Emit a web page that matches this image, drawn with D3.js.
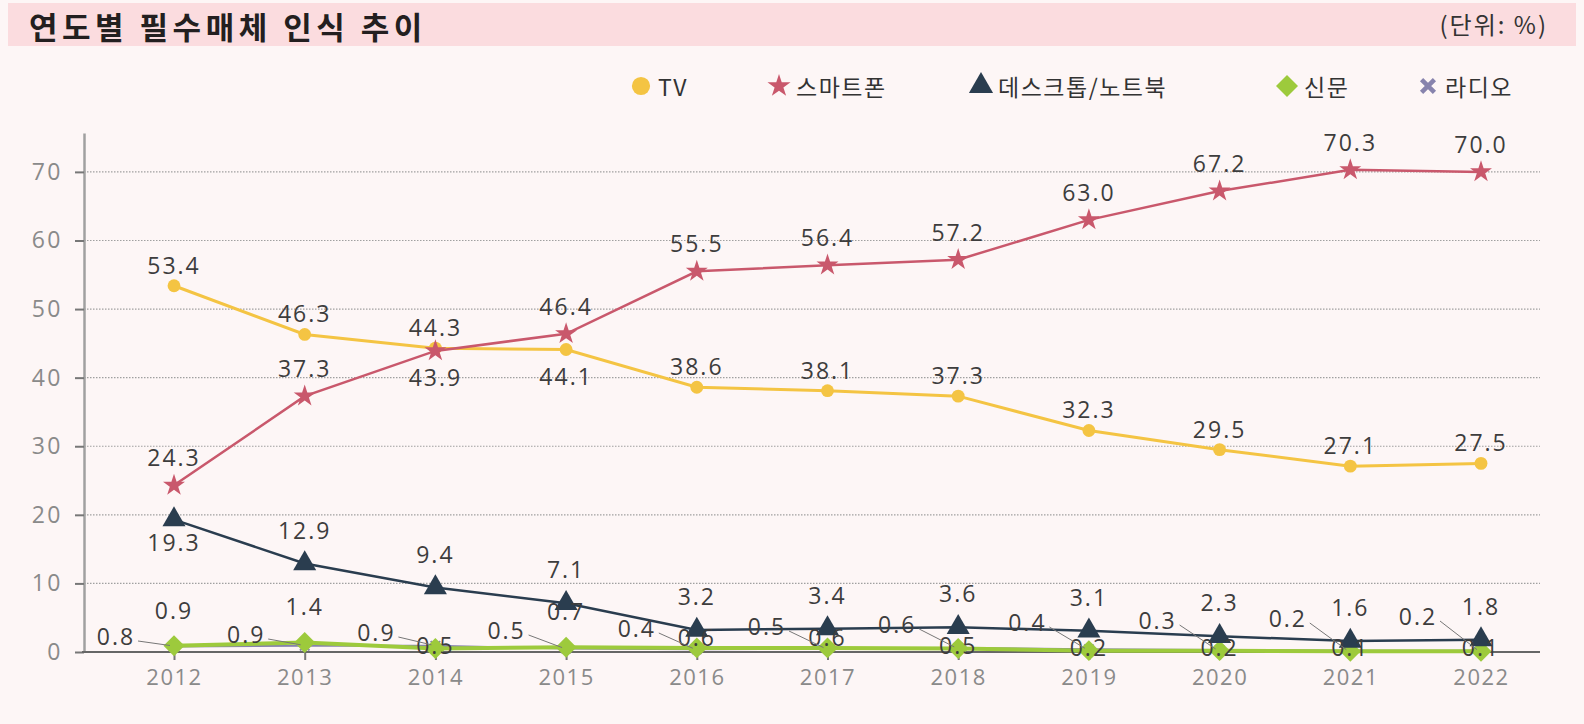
<!DOCTYPE html>
<html>
<head>
<meta charset="utf-8">
<script src="https://cdn.jsdelivr.net/npm/d3@7"></script>
<style>
  body { margin: 0; background: #fdf6f6; }
  svg { display: block; }
</style>
</head>
<body>
<div id="chart"></div>
<script>
// data
const years = ["2012","2013","2014","2015","2016","2017","2018","2019","2020","2021","2022"];
const tv      = [53.4, 46.3, 44.3, 44.1, 38.6, 38.1, 37.3, 32.3, 29.5, 27.1, 27.5];
const phone   = [24.3, 37.3, 43.9, 46.4, 55.5, 56.4, 57.2, 63.0, 67.2, 70.3, 70.0];
const desktop = [19.3, 12.9, 9.4, 7.1, 3.2, 3.4, 3.6, 3.1, 2.3, 1.6, 1.8];
const paper   = [0.9, 1.4, 0.5, 0.7, 0.6, 0.6, 0.5, 0.2, 0.2, 0.1, 0.1];
const radio   = [0.8, 0.9, 0.9, 0.5, 0.4, 0.5, 0.6, 0.4, 0.3, 0.2, 0.2];
const yTicks  = [0, 10, 20, 30, 40, 50, 60, 70];

const W = 1584, H = 724;
const plotL = 84, plotR = 1540;

const svg = d3.select("#chart")
  .append("svg")
    .attr("width", W)
    .attr("height", H);

svg.append("rect").attr("width", W).attr("height", H).attr("fill", "#fdf6f6");

// title bar
svg.append("rect")
  .attr("x", 8).attr("y", 3).attr("width", 1568).attr("height", 43)
  .attr("fill", "#fbdcdf");
svg.append("text")
  .attr("x", 29).attr("y", 39)
  .style("font", "bold 31px 'Noto Sans CJK KR'")
  .style("letter-spacing", "4.5px")
  .attr("fill", "#231f20")
  .text("연도별 필수매체 인식 추이");
svg.append("text")
  .attr("x", 1548).attr("y", 34)
  .attr("text-anchor", "end")
  .style("font", "24px 'Noto Sans CJK KR'")
  .style("letter-spacing", "2px")
  .attr("fill", "#333")
  .text("(단위: %)");

// scales
const x = d3.scalePoint().domain(years).range([174, 1481]);
const y = d3.scaleLinear().domain([0, 75.67]).range([652, 133]);

// grid
svg.append("g")
  .selectAll("line")
  .data(yTicks.filter(d => d > 0))
  .join("line")
    .attr("x1", plotL).attr("x2", plotR)
    .attr("y1", d => y(d)).attr("y2", d => y(d))
    .attr("stroke", "#a0a0a0")
    .attr("stroke-width", 1.2)
    .attr("stroke-dasharray", "1.5,1.5");

// y axis
const yAxis = svg.append("g")
  .attr("transform", `translate(${plotL},0)`)
  .call(d3.axisLeft(y).tickValues(yTicks).tickSize(9).tickPadding(12).tickSizeOuter(0));
yAxis.select(".domain").attr("stroke", "#a0a0a0").attr("stroke-width", 2.5);
yAxis.selectAll(".tick line").attr("stroke", "#777").attr("stroke-width", 2);
yAxis.selectAll(".tick text")
  .style("font", "23px 'Open Sans'")
  .style("letter-spacing", "2.5px")
  .attr("fill", "#8a8a8a");

// x axis
const xAxis = svg.append("g")
  .attr("transform", `translate(0,${y(0)})`)
  .call(d3.axisBottom(x).tickSize(8).tickPadding(9).tickSizeOuter(0));
xAxis.select(".domain").remove();
xAxis.append("line")
  .attr("x1", plotL - 2).attr("x2", plotR)
  .attr("stroke", "#666").attr("stroke-width", 2);
xAxis.selectAll(".tick line").attr("stroke", "#777").attr("stroke-width", 2);
xAxis.selectAll(".tick text")
  .style("font", "22px 'Open Sans'")
  .style("letter-spacing", "1.5px")
  .attr("fill", "#8a8a8a");

const line = d3.line().x((d, i) => x(years[i])).y(d => y(d));

const series = [
  { name: "라디오", values: radio, color: "#8783ad", width: 2, symbol: d3.symbolTimes, size: 60, rot: 0 },
  { name: "신문", values: paper, color: "#9dca3c", width: 4, symbol: d3.symbolSquare, size: 220, rot: 45 },
  { name: "데스크톱/노트북", values: desktop, color: "#2a3d4f", width: 2.5, symbol: d3.symbolTriangle, size: 230, rot: 0 },
  { name: "TV", values: tv, color: "#f4c443", width: 3, symbol: d3.symbolCircle, size: 130, rot: 0 },
  { name: "스마트폰", values: phone, color: "#c9586c", width: 2.5, symbol: d3.symbolStar, size: 150, rot: 0 }
];

series.forEach(s => {
  svg.append("path")
    .datum(s.values)
    .attr("d", line)
    .attr("fill", "none")
    .attr("stroke", s.color)
    .attr("stroke-width", s.width);
  svg.append("g")
    .selectAll("path")
    .data(s.values)
    .join("path")
      .attr("transform", (d, i) => `translate(${x(years[i])},${y(d)}) rotate(${s.rot})`)
      .attr("d", d3.symbol().type(s.symbol).size(s.size))
      .attr("fill", s.color)
      .attr("stroke", s.symbol === d3.symbolTimes ? s.color : "none")
      .attr("stroke-width", 2);
});

// data labels
const labelFont = "23px 'Open Sans'";
function labels(values, dy) {
  svg.append("g")
    .selectAll("text")
    .data(values)
    .join("text")
      .attr("x", (d, i) => x(years[i]))
      .attr("y", (d, i) => y(d) + dy(d, i))
      .attr("text-anchor", "middle")
      .attr("dominant-baseline", "central")
      .style("font", labelFont)
      .style("letter-spacing", "2px")
      .attr("fill", "#3d3d3d")
      .text(d => d.toFixed(1));
}
labels(tv, (d, i) => i === 3 ? 26 : -21);
labels(phone, (d, i) => i === 2 ? 26 : -28);
labels(desktop, (d, i) => i === 0 ? 22 : -34);
labels(paper, (d, i) => (i === 0 || i === 1 || i === 3) ? -36 : (i === 4 || i === 5) ? -11 : -4);

// radio labels off to the left with leader lines
const radioLabelX = i => x(years[i]) - 58 + i * -0.5;
const radioLabelY = i => y(0) - 16 - i * 2;
svg.append("g")
  .selectAll("line")
  .data(radio)
  .join("line")
    .attr("x1", (d, i) => radioLabelX(i) + 22)
    .attr("y1", (d, i) => radioLabelY(i) + 5)
    .attr("x2", (d, i) => x(years[i]) - 4)
    .attr("y2", d => y(d) - 1)
    .attr("stroke", "#777")
    .attr("stroke-width", 1);
svg.append("g")
  .selectAll("text")
  .data(radio)
  .join("text")
    .attr("x", (d, i) => radioLabelX(i))
    .attr("y", (d, i) => radioLabelY(i))
    .attr("text-anchor", "middle")
    .attr("dominant-baseline", "central")
    .style("font", labelFont)
    .style("letter-spacing", "2px")
    .attr("fill", "#3d3d3d")
    .text(d => d.toFixed(1));

// legend
const legendData = [
  { label: "TV", s: series[3], x: 641 },
  { label: "스마트폰", s: series[4], x: 779 },
  { label: "데스크톱/노트북", s: series[2], x: 981 },
  { label: "신문", s: series[1], x: 1287 },
  { label: "라디오", s: series[0], x: 1428 }
];
const legend = svg.append("g").attr("transform", "translate(0,86)");
legend.selectAll("path")
  .data(legendData)
  .join("path")
    .attr("transform", d => `translate(${d.x},0) rotate(${d.s.rot})`)
    .attr("d", d => {
      const t = d.s.symbol;
      const sz = t === d3.symbolCircle ? 260 : t === d3.symbolTimes ? 110 : d.s.size * 1.1;
      return d3.symbol().type(t).size(sz)();
    })
    .attr("fill", d => d.s.color)
    .attr("stroke", d => d.s.symbol === d3.symbolTimes ? d.s.color : "none")
    .attr("stroke-width", 4.5);
legend.selectAll("text")
  .data(legendData)
  .join("text")
    .attr("x", d => d.x + 17)
    .attr("y", 0)
    .attr("dominant-baseline", "central")
    .style("font", "23px 'Noto Sans CJK KR'")
    .style("letter-spacing", "1.5px")
    .attr("fill", "#333")
    .text(d => d.label);
</script>
</body>
</html>
